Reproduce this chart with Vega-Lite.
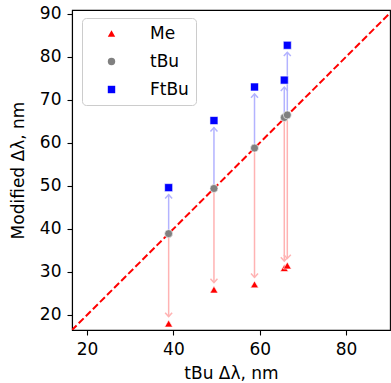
{
  "$schema": "https://vega.github.io/schema/vega-lite/v6.json",
  "autosize": "none",
  "width": 318,
  "height": 320,
  "padding": {"left": 72, "top": 10, "right": 1, "bottom": 53},
  "background": "white",
  "config": {
    "font": "DejaVu Sans",
    "view": {"stroke": "black", "strokeWidth": 1.1},
    "axis": {
      "grid": false,
      "domainColor": "black",
      "domainWidth": 1.1,
      "tickColor": "black",
      "tickWidth": 1.1,
      "tickSize": 5,
      "labelColor": "black",
      "labelFont": "DejaVu Sans",
      "labelFontSize": 17,
      "labelPadding": 6,
      "titleColor": "black",
      "titleFont": "DejaVu Sans",
      "titleFontSize": 17,
      "titleFontWeight": "normal"
    }
  },
  "data": {
    "values": [
      {"x": 38.9, "Me": 18.0, "tBu": 38.9, "FtBu": 49.6},
      {"x": 49.4, "Me": 25.9, "tBu": 49.4, "FtBu": 65.2},
      {"x": 58.8, "Me": 27.1, "tBu": 58.8, "FtBu": 73.0},
      {"x": 65.7, "Me": 30.9, "tBu": 65.9, "FtBu": 74.6},
      {"x": 66.4, "Me": 31.5, "tBu": 66.5, "FtBu": 82.7}
    ]
  },
  "layer": [
    {
      "data": {"values": [{"d": 0}, {"d": 100}]},
      "mark": {"type": "line", "color": "red", "strokeWidth": 2, "strokeDash": [7, 3], "clip": true},
      "encoding": {
        "x": {"field": "d", "type": "quantitative", "scale": {"domain": [16.5, 90.2], "nice": false, "zero": false}, "axis": {"values": [20, 40, 60, 80], "title": "tBu Δλ, nm", "titlePadding": 8}},
        "y": {"field": "d", "type": "quantitative", "scale": {"domain": [16.5, 90.9], "nice": false, "zero": false}, "axis": {"values": [20, 30, 40, 50, 60, 70, 80, 90], "title": "Modified Δλ, nm", "titlePadding": 12}}
      }
    },
    {
      "mark": {"type": "rule", "color": "#ffb3b3", "strokeWidth": 1.5, "y2Offset": -7},
      "encoding": {
        "x": {"field": "x", "type": "quantitative"},
        "y": {"field": "tBu", "type": "quantitative"},
        "y2": {"field": "Me"}
      }
    },
    {
      "mark": {"type": "rule", "color": "#b3b3ff", "strokeWidth": 1.5, "y2Offset": 7},
      "encoding": {
        "x": {"field": "x", "type": "quantitative"},
        "y": {"field": "tBu", "type": "quantitative"},
        "y2": {"field": "FtBu"}
      }
    },
    {
      "mark": {"type": "point", "shape": "M-1,-1.1L0,0L1,-1.1", "filled": false, "stroke": "#ffb3b3", "strokeWidth": 1.5, "size": 49, "yOffset": -7, "opacity": 1},
      "encoding": {
        "x": {"field": "x", "type": "quantitative"},
        "y": {"field": "Me", "type": "quantitative"}
      }
    },
    {
      "mark": {"type": "point", "shape": "M-1,1.1L0,0L1,1.1", "filled": false, "stroke": "#b3b3ff", "strokeWidth": 1.5, "size": 49, "yOffset": 7, "opacity": 1},
      "encoding": {
        "x": {"field": "x", "type": "quantitative"},
        "y": {"field": "FtBu", "type": "quantitative"}
      }
    },
    {
      "transform": [
        {"fold": ["Me", "tBu", "FtBu"], "as": ["series", "value"]}
      ],
      "mark": {"type": "point", "filled": true, "opacity": 1, "stroke": "white", "strokeWidth": 0.6, "size": 64},
      "encoding": {
        "x": {"field": "x", "type": "quantitative"},
        "y": {"field": "value", "type": "quantitative"},
        "color": {
          "field": "series", "type": "nominal",
          "scale": {"domain": ["Me", "tBu", "FtBu"], "range": ["red", "gray", "blue"]},
          "legend": {
            "title": null,
            "orient": "none",
            "legendX": 10,
            "legendY": 8,
            "padding": 7,
            "symbolOffset": 14,
            "labelOffset": 30,
            "labelFontSize": 17,
            "labelFont": "DejaVu Sans",
            "labelColor": "black",
            "rowPadding": 10,
            "symbolSize": 55,
            "symbolStrokeWidth": 0,
            "strokeColor": "#cccccc",
            "fillColor": "rgba(255,255,255,0.8)",
            "cornerRadius": 4
          }
        },
        "shape": {
          "field": "series", "type": "nominal",
          "scale": {"domain": ["Me", "tBu", "FtBu"], "range": ["triangle-up", "circle", "square"]}
        },
        "order": {"field": "x", "type": "quantitative"}
      }
    }
  ]
}
